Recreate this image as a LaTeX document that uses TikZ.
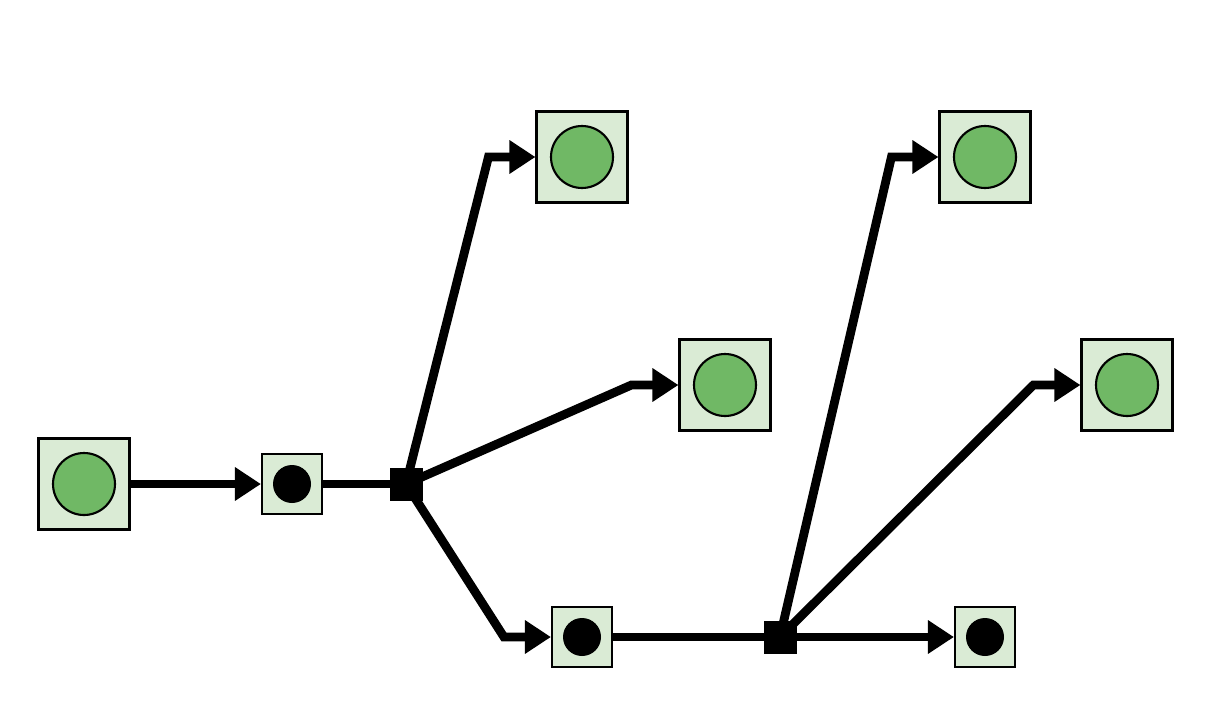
\documentclass[tikz,border=0pt]{standalone}
\usetikzlibrary{arrows.meta}

\definecolor{boxgreen}{RGB}{218,235,213}
\definecolor{dotgreen}{RGB}{112,184,101}

\tikzset{
    bigbox/.style={draw, fill=boxgreen, minimum size=0.91cm, inner sep=0pt, line width=0.6pt,
        path picture={\draw[fill=dotgreen, line width=0.6pt] (path picture bounding box.center) circle (0.31cm);}},
    smallbox/.style={draw, fill=boxgreen, minimum size=0.6cm, inner sep=0pt, line width=0.6pt,
        path picture={\fill[black] (path picture bounding box.center) circle (0.19cm);}},
    junction/.style={fill=black, minimum size=0.33cm, inner sep=0pt},
    flow/.style={line width=2.5pt},
    flowarrow/.style={flow, -{Triangle[length=0.26cm,width=0.32cm]}}
}

\begin{document}
\begin{tikzpicture}

        \useasboundingbox (0,0) rectangle (12.12,7.09);

        % Nodes
        \node[bigbox] (src) at (0.84,2.25) {};
        \node[smallbox] (tap1) at (2.92,2.25) {};
        \node[junction] (split1) at (4.06,2.25) {};
        \node[bigbox] (outA) at (5.82,5.52) {};
        \node[bigbox] (outB) at (7.25,3.24) {};
        \node[smallbox] (tap2) at (5.82,0.72) {};
        \node[junction] (split2) at (7.80,0.72) {};
        \node[bigbox] (outC) at (9.85,5.52) {};
        \node[bigbox] (outD) at (11.27,3.24) {};
        \node[smallbox] (tap3) at (9.85,0.72) {};

        % Connectors
        \draw[flowarrow] (src) -- (tap1);
        \draw[flow] (tap1) -- (split1.center);
        \draw[flowarrow] (split1.center) -- ([xshift=-0.47cm]outA.west) -- (outA);
        \draw[flowarrow] (split1.center) -- ([xshift=-0.47cm]outB.west) -- (outB);
        \draw[flowarrow] (split1.center) -- ([xshift=-0.47cm]tap2.west) -- (tap2);
        \draw[flow] (tap2) -- (split2.center);
        \draw[flowarrow] (split2.center) -- ([xshift=-0.47cm]outC.west) -- (outC);
        \draw[flowarrow] (split2.center) -- ([xshift=-0.47cm]outD.west) -- (outD);
        \draw[flowarrow] (split2.center) -- (tap3);

\end{tikzpicture}
\end{document}
